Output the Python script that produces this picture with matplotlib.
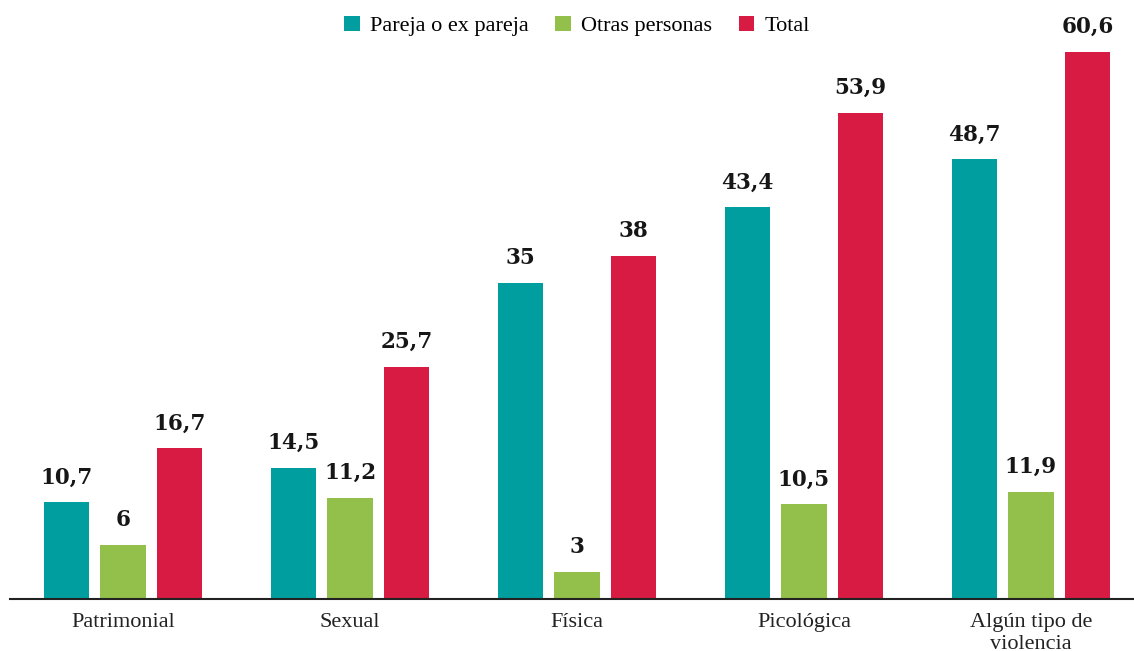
import numpy as np
import matplotlib.pyplot as plt

# Datos
categorias = ['Patrimonial', 'Sexual', 'Física', 'Picológica', 'Algún tipo de\nviolencia']
pareja = [10.7, 14.5, 35, 43.4, 48.7]
otras = [6, 11.2, 3, 10.5, 11.9]
total = [16.7, 25.7, 38, 53.9, 60.6]

series = ['Pareja o ex pareja', 'Otras personas', 'Total']
colores = ['#009e9e', '#93c04a', '#d81b42']

fig = plt.figure(figsize=(11.34, 6.51), dpi=100)
ax = fig.add_axes([10 / 1134, 52 / 651, 1124 / 1134, 0.8596])

x = np.arange(len(categorias))
ancho = 0.2
paso = 0.25

for i, (vals, nombre, col) in enumerate(zip([pareja, otras, total], series, colores)):
    barras = ax.bar(x + (i - 1) * paso, vals, ancho, color=col, label=nombre)
    etiquetas = [f'{v:g}'.replace('.', ',') for v in vals]
    ax.bar_label(barras, labels=etiquetas, padding=10, family='DejaVu Serif',
                 fontweight='bold', fontsize=15.5, color='#161616')

ax.set_xlim(-0.498, 4.454)
ax.set_ylim(0, 62)
ax.set_xticks(x)
ax.set_xticklabels(categorias, family='Liberation Serif', fontsize=16, color='#222222',
                   linespacing=1.25)
ax.tick_params(axis='x', length=0, pad=10)
ax.set_yticks([])
for s in ['top', 'right', 'left']:
    ax.spines[s].set_visible(False)
ax.spines['bottom'].set_color('#222222')
ax.spines['bottom'].set_linewidth(1.5)

fig.legend(loc='center', bbox_to_anchor=(577 / 1134, 1 - 26 / 651), ncol=3, frameon=False,
           prop={'family': 'Liberation Serif', 'size': 16}, handlelength=0.7,
           handleheight=0.7, handletextpad=0.45, columnspacing=1.2)

fig.savefig('out.png', dpi=100)
